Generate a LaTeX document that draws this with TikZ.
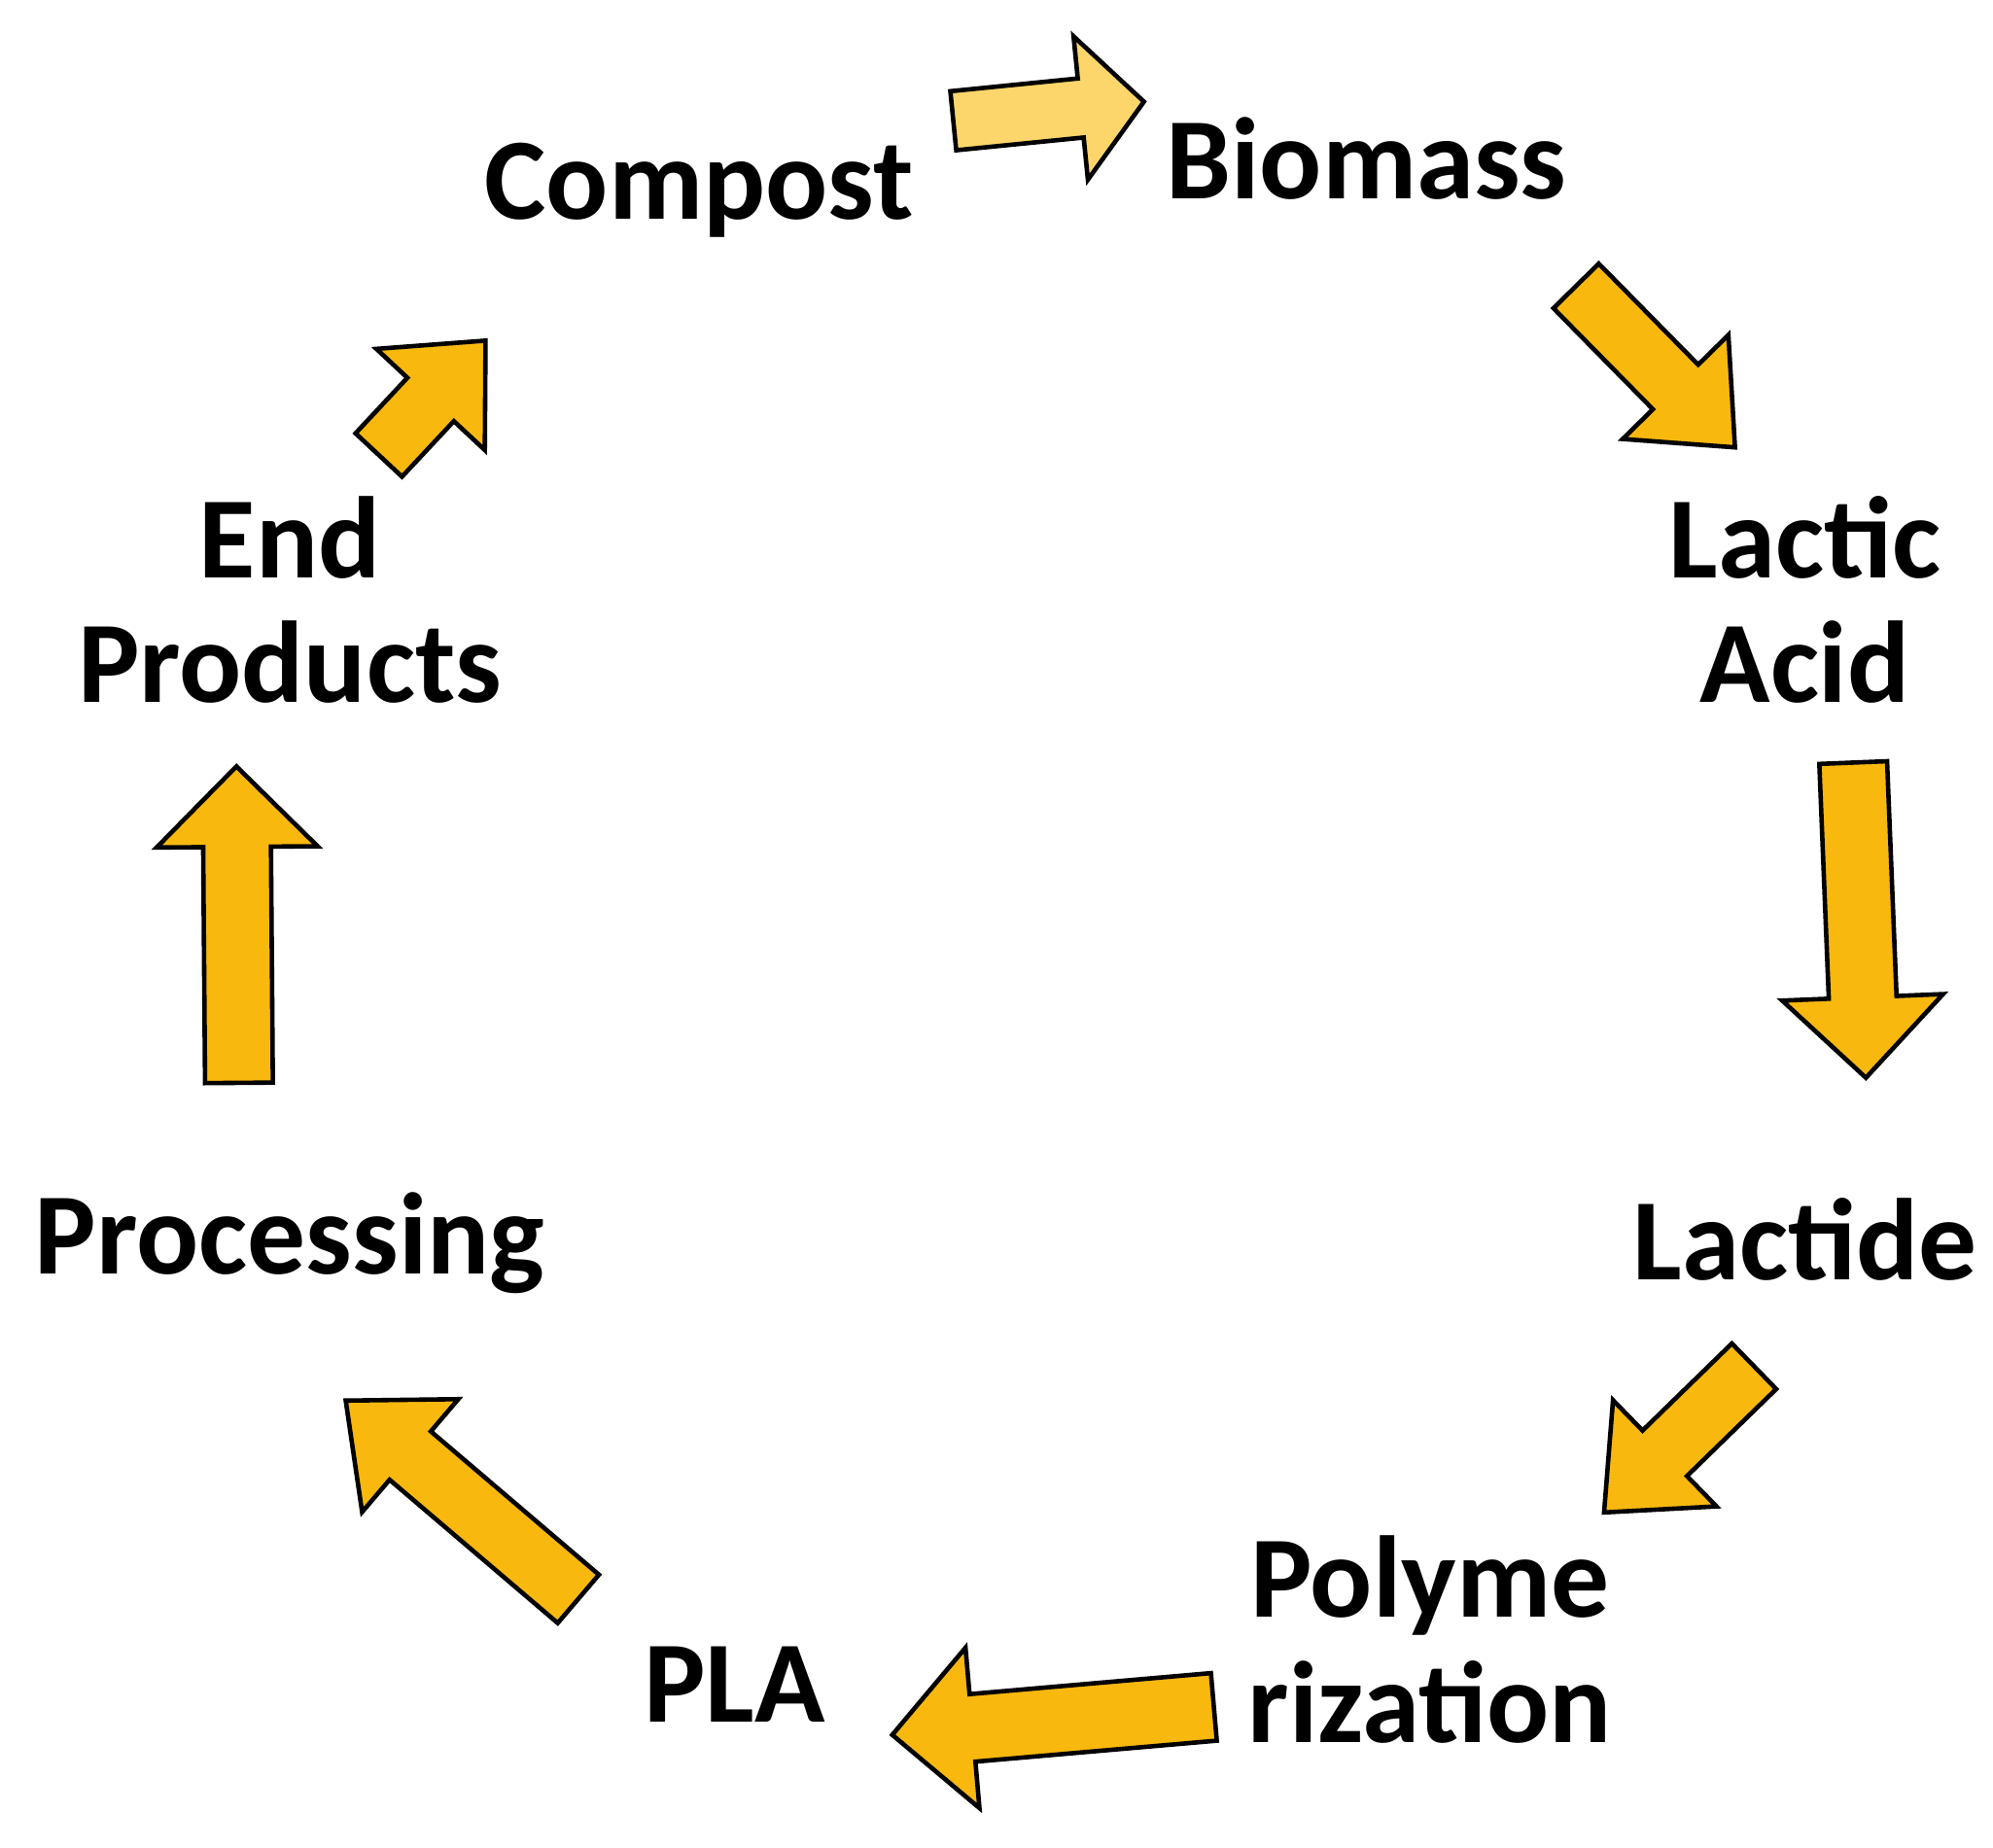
\documentclass[tikz,border=0pt]{standalone}
\usepackage{fontspec}
\setmainfont{Carlito}
\usetikzlibrary{calc}
\definecolor{org}{HTML}{F8B80E}
\definecolor{lyel}{HTML}{FCD66A}
\tikzset{lbl/.style={font=\bfseries\fontsize{78}{84}\selectfont,align=center,inner sep=0pt},
 blk/.style={draw=black,line width=3pt,line join=miter,fill=org}}
\newcommand\barrow[6][]{% tail, tip, s, h, L
 \coordinate (H) at ($(#3)!#6!(#2)$);
 \filldraw[blk,#1] ($(#2)!#4!90:(#3)$) -- ($(H)!#4!-90:(#2)$) -- ($(H)!#5!-90:(#2)$) -- (#3)
  -- ($(H)!#5!90:(#2)$) -- ($(H)!#4!90:(#2)$) -- ($(#2)!#4!-90:(#3)$) -- cycle;}
\begin{document}
\begin{tikzpicture}[x=0.03cm,y=-0.03cm]
\useasboundingbox (0,0) rectangle (1568,1454);
\node[lbl] (compost) at (550,150) {Compost};
\node[lbl] (biomass) at (1075,125) {Biomass};
\node[lbl] (lactic) at (1420,472) {Lactic\\Acid};
\node[lbl] (lactide) at (1420,975) {Lactide};
\node[lbl] (poly) at (1125,1290) {Polyme\\rization};
\node[lbl] (pla) at (578,1325) {PLA};
\node[lbl] (proc) at (228,978) {Processing};
\node[lbl] (end) at (228,472) {End\\Products};
\coordinate (a1) at (750,95); \coordinate (b1) at (900,80);
\coordinate (a2) at (1240,225); \coordinate (b2) at (1365,352);
\coordinate (a3) at (1458,600); \coordinate (b3) at (1468,848);
\coordinate (a4) at (1380,1075); \coordinate (b4) at (1262,1190);
\coordinate (a5) at (955,1343); \coordinate (b5) at (702,1365);
\coordinate (a6) at (455,1258); \coordinate (b6) at (272,1102);
\coordinate (a7) at (188,852); \coordinate (b7) at (186,603);
\coordinate (a8) at (298,358); \coordinate (b8) at (382,268);
\barrow[fill=lyel]{a1}{b1}{0.7cm}{1.7cm}{1.5cm}
\barrow{a2}{b2}{0.75cm}{1.75cm}{2.0cm}
\barrow{a3}{b3}{0.8cm}{1.9cm}{1.9cm}
\barrow{a4}{b4}{0.75cm}{1.75cm}{2.0cm}
\barrow{a5}{b5}{0.8cm}{1.9cm}{1.9cm}
\barrow{a6}{b6}{0.75cm}{1.75cm}{2.0cm}
\barrow{a7}{b7}{0.8cm}{1.9cm}{1.9cm}
\barrow{a8}{b8}{0.75cm}{1.75cm}{1.9cm}
\end{tikzpicture}
\end{document}
